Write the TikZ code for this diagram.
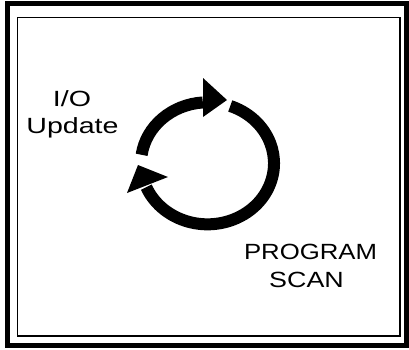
\documentclass[tikz,border=0pt]{standalone}
\usepackage{fontspec}
\setmainfont{Liberation Sans}
\begin{document}
\begin{tikzpicture}[x=1pt,y=-1pt,
  lbl/.style={anchor=base,inner sep=0pt,font=\fontsize{22}{26}\selectfont},
  ring/.style={line width=12pt,black},
  head/.style={fill=black,draw=none}]
\useasboundingbox (0,0) rectangle (409,349);
\fill[white] (0,0) rectangle (409,349);
% frames
\draw[line width=5pt] (7.5,3) rectangle (406.5,345);
\draw[line width=1.3pt] (17.5,17.5) rectangle (400,336);
% cycle
\coordinate (c) at (207.5,163.3);
\draw[ring] (c) ++(-172:66.5 and 61) arc[start angle=-172,end angle=-94,x radius=66.5,y radius=61];
\fill[head] (203,78) -- (227,100) -- (203,117) -- cycle;
\draw[ring] (c) ++(-70:66.5 and 61) arc[start angle=-70,end angle=157,x radius=66.5,y radius=61];
\fill[head] (138,165) -- (168,177) -- (127,193) -- cycle;
% labels
\node[lbl] (io) at (72,106) {\scalebox{1.3}[1]{I/O}};
\node[lbl] (upd) at (72.5,133) {\scalebox{1.3}[1]{Update}};
\node[lbl] (prog) at (310.5,259) {\scalebox{1.17}[1]{PROGRAM}};
\node[lbl] (scan) at (306.5,287) {\scalebox{1.22}[1]{SCAN}};
\end{tikzpicture}
\end{document}
